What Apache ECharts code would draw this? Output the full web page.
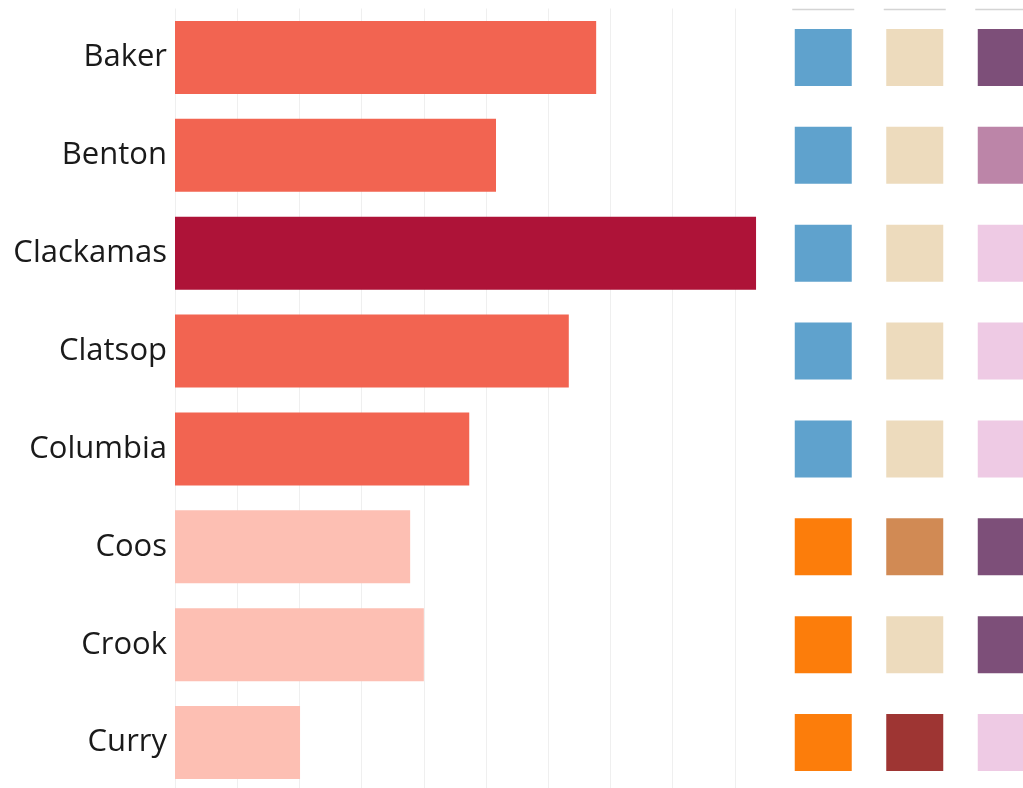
<!DOCTYPE html>
<html>
<head>
<meta charset="utf-8">
<script src="https://cdn.jsdelivr.net/npm/echarts@6/dist/echarts.min.js"></script>
<style>
  html, body { margin: 0; padding: 0; background: #fff; overflow: hidden; }
  #main { width: 1060px; height: 800px; }
</style>
</head>
<body>
<div id="main"></div>
<script>
// 县名（纵轴类目）
const counties = ['Baker', 'Benton', 'Clackamas', 'Clatsop', 'Columbia', 'Coos', 'Crook', 'Curry']
// 条形数值
const values = [6.77, 5.16, 9.34, 6.33, 4.73, 3.78, 4.0, 2.01]
// 条形分组
const barGroup = ['mid', 'mid', 'high', 'mid', 'mid', 'low', 'low', 'low']
// 右侧三列色块
const colNames = ['c1', 'c2', 'c3']
const col1 = ['blue', 'blue', 'blue', 'blue', 'blue', 'orange', 'orange', 'orange']
const col2 = ['beige', 'beige', 'beige', 'beige', 'beige', 'tan', 'beige', 'brown']
const col3 = ['purple', 'mauve', 'pink', 'pink', 'pink', 'purple', 'purple', 'pink']

const barColors = { high: '#ae1338', mid: '#f26451', low: '#fdbfb3' }
const palette = {
  blue: '#5fa2cd',
  orange: '#fc7d0b',
  beige: '#eddbbd',
  tan: '#d18a54',
  brown: '#9e3533',
  purple: '#7d4f79',
  mauve: '#bc85a8',
  pink: '#eecae4'
}

const squares = []
;[col1, col2, col3].forEach((col, ci) => {
  col.forEach((key, ri) => {
    squares.push({ value: [ci, ri], itemStyle: { color: palette[key] } })
  })
})

// 画布比窗口大，超出部分被裁掉（参考图底部和右侧被截断）
const chart = echarts.init(document.getElementById('main'))
chart.setOption({
  animation: false,
  grid: [
    { left: 175, top: 8.5, width: 591, height: 783 },
    { left: 777.5, top: 8.5, width: 274.5, height: 783 }
  ],
  xAxis: [
    {
      gridIndex: 0,
      type: 'value',
      min: 0,
      max: 9.5,
      interval: 1,
      axisLine: { show: false },
      axisTick: { show: false },
      axisLabel: { show: false },
      splitLine: { show: true, showMaxLine: false, lineStyle: { color: '#efefef', width: 1 } }
    },
    {
      gridIndex: 1,
      type: 'category',
      data: colNames,
      axisLine: { show: false },
      axisTick: { show: false },
      axisLabel: { show: false },
      splitLine: { show: false }
    }
  ],
  yAxis: [
    {
      gridIndex: 0,
      type: 'category',
      inverse: true,
      data: counties,
      axisLine: { show: false },
      axisTick: { show: false },
      axisLabel: {
        margin: 8,
        padding: [6, 0, 0, 0],
        color: '#1a1a1a',
        fontSize: 31,
        fontFamily: 'Open Sans'
      }
    },
    {
      gridIndex: 1,
      type: 'category',
      inverse: true,
      data: counties,
      axisLine: { show: false },
      axisTick: { show: false },
      axisLabel: { show: false }
    }
  ],
  series: [
    {
      type: 'bar',
      xAxisIndex: 0,
      yAxisIndex: 0,
      barWidth: 73,
      data: values.map((v, i) => ({ value: v, itemStyle: { color: barColors[barGroup[i]] } }))
    },
    {
      type: 'scatter',
      xAxisIndex: 1,
      yAxisIndex: 1,
      symbol: 'rect',
      symbolSize: 57,
      itemStyle: { opacity: 1 },
      data: squares
    },
    {
      // 列顶部的短横线
      type: 'custom',
      xAxisIndex: 1,
      yAxisIndex: 1,
      data: colNames.map((c, i) => [i, 0]),
      renderItem: function (params, api) {
        const cx = api.coord([api.value(0), 0])[0]
        const y = params.coordSys.y + 1
        return {
          type: 'line',
          shape: { x1: cx - 31, y1: y, x2: cx + 31, y2: y },
          style: { stroke: '#d4d4d4', lineWidth: 1.5 }
        }
      }
    }
  ]
})
</script>
</body>
</html>
